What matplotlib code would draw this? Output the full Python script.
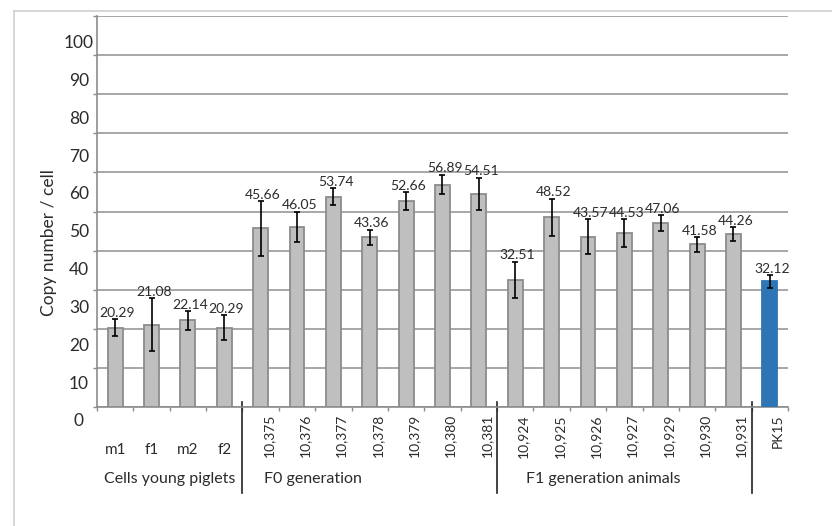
import matplotlib
matplotlib.use('Agg')
import matplotlib.pyplot as plt
from matplotlib.lines import Line2D
import matplotlib.transforms as mtransforms
import numpy as np

plt.rcParams['font.family'] = ['Lato', 'DejaVu Sans']

# ---------------- data ----------------
categories = ['m1', 'f1', 'm2', 'f2',
              '10,375', '10,376', '10,377', '10,378', '10,379', '10,380', '10,381',
              '10,924', '10,925', '10,926', '10,927', '10,929', '10,930', '10,931',
              'PK15']
values = [20.29, 21.08, 22.14, 20.29,
          45.66, 46.05, 53.74, 43.36, 52.66, 56.89, 54.51,
          32.51, 48.52, 43.57, 44.53, 47.06, 41.58, 44.26,
          32.12]
errors = [2.2, 6.7, 2.4, 3.2,
          7.0, 3.9, 2.2, 2.0, 2.3, 2.5, 4.1,
          4.6, 4.8, 4.4, 3.5, 2.0, 1.9, 1.7,
          1.6]
group_names = ['Cells young piglets', 'F0 generation', 'F1 generation animals', '']
group_sizes = [4, 7, 7, 1]
reference_category = 'PK15'
y_ticks = list(range(0, 101, 10))
y_label = 'Copy number / cell'

# ---------------- layout ----------------
W, H = 832, 526
fig = plt.figure(figsize=(W / 100, H / 100), dpi=100)


def fx(px):
    return px / W


def fy(py):
    return 1 - py / H


TXT = '#2b2b2b'
AXC = '#8c8c8c'

ax = fig.add_axes([fx(97), fy(407), fx(788) - fx(97), fy(16) - fy(407)])
x = np.arange(len(categories))
face = ['#2e75b6' if c == reference_category else '#bfbfbf' for c in categories]
edge = ['#2e75b6' if c == reference_category else '#8c8c8c' for c in categories]
ax.bar(x, values, width=0.41, color=face, edgecolor=edge, linewidth=1.3, zorder=3)
ax.errorbar(x, values, yerr=errors, fmt='none', ecolor='black', elinewidth=1.2,
            capsize=2.2, capthick=1.2, zorder=4)
ax.set_xlim(-0.5, len(x) - 0.5)
ax.set_ylim(0, 100)
ax.set_yticks(y_ticks)
ax.yaxis.grid(True, color='#a0a0a0', lw=1.3)
ax.set_axisbelow(True)
ax.tick_params(axis='y', labelleft=False, length=3, color=AXC, width=1)
ax.set_xticks(np.arange(-0.5, len(x), 1.0))
ax.tick_params(axis='x', labelbottom=False, length=3, color=AXC, width=1)
for s in ['top', 'right']:
    ax.spines[s].set_visible(False)
for s in ['left', 'bottom']:
    ax.spines[s].set_color(AXC)
    ax.spines[s].set_linewidth(1.2)

# value labels
for xi, v, e in zip(x, values, errors):
    ax.annotate(f'{v:.2f}', (xi, v + e), xytext=(1.5, 0.3), textcoords='offset points',
                ha='center', va='bottom', fontsize=10, color=TXT, zorder=5)

# category labels
trans = mtransforms.blended_transform_factory(ax.transData, ax.transAxes)
trans_rot = mtransforms.offset_copy(trans, fig=fig, x=8, y=0, units='dots')
first_group = group_sizes[0]
for xi, lab in zip(x, categories):
    if xi < first_group:
        ax.text(xi, (407 - 450) / 391, lab, ha='center', va='center', fontsize=11,
                color=TXT, transform=trans, clip_on=False)
    else:
        ax.text(xi, (407 - 414) / 391, lab, rotation=90, ha='center', va='top',
                fontsize=10, color=TXT, transform=trans_rot, clip_on=False)

# group labels and separators
group_label_x = [1.5, 5.44, 13.43, 18]
bounds = np.cumsum(group_sizes)[:-1] - 0.5
for b in bounds:
    ax.plot([b, b], [0.012, (407 - 493) / 391], color='#222222', lw=1.2,
            transform=trans, clip_on=False)
for name, gx in zip(group_names, group_label_x):
    if name:
        ax.text(gx, (407 - 479) / 391, name, ha='center', va='center', fontsize=11.5,
                color=TXT, transform=trans, clip_on=False)

# y tick labels (offset scale as in the original)
ax_lab = fig.add_axes([fx(97), fy(420), fx(788) - fx(97), fy(41.5) - fy(420)])
ax_lab.patch.set_visible(False)
for s in ax_lab.spines.values():
    s.set_visible(False)
ax_lab.set_ylim(0, 100)
ax_lab.set_xticks([])
ax_lab.set_yticks(y_ticks, [str(t) for t in y_ticks])
ax_lab.tick_params(axis='y', length=0, pad=13, labelsize=12.5, labelcolor=TXT)
for lbl in ax_lab.get_yticklabels():
    lbl.set_ha('center')

fig.text(fx(49), fy(243), y_label, rotation=90, ha='center', va='center',
         fontsize=12.5, color=TXT)

# outer chart frame (left and top edges)
fig.add_artist(Line2D([fx(14), fx(14)], [fy(11), 0], transform=fig.transFigure,
                      color='#d0d0d0', lw=1.2))
fig.add_artist(Line2D([fx(14), 1], [fy(11), fy(11)], transform=fig.transFigure,
                      color='#d0d0d0', lw=1.2))

fig.savefig('out.png', dpi=100)
